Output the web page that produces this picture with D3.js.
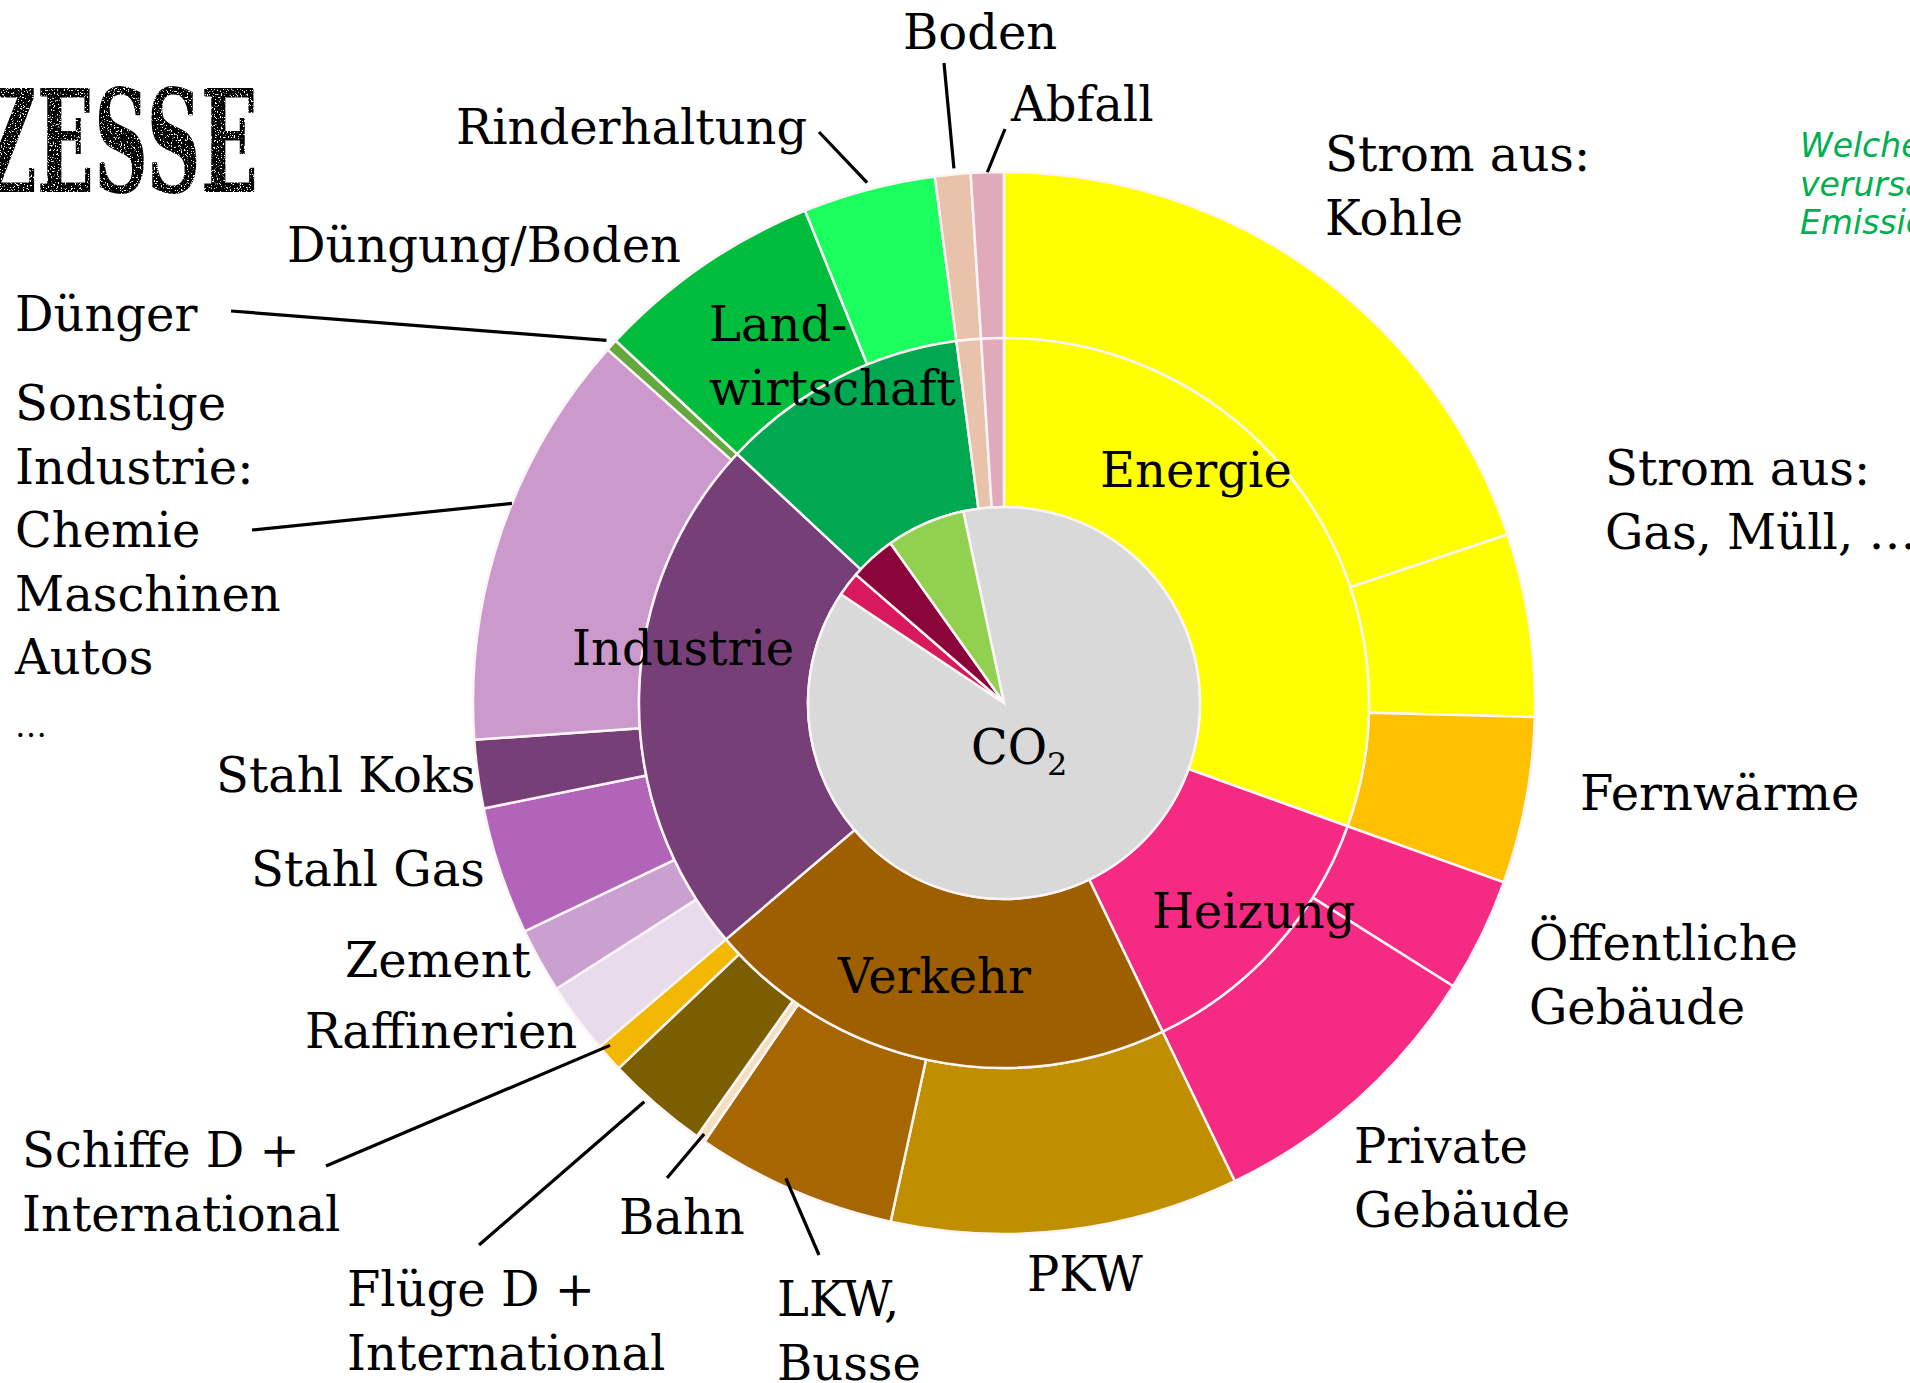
<!DOCTYPE html>
<html>
<head>
<meta charset="utf-8">
<script src="https://cdn.jsdelivr.net/npm/d3@7"></script>
<style>
  body { margin: 0; background: #fff; overflow: hidden; }
  text { font-family: "DejaVu Serif", serif; fill: #000; }
</style>
</head>
<body>
<svg id="chart" width="1910" height="1383"></svg>
<script>
// Treibhausgas-Emissionen, Anteile in Prozent
// innerer Kreis: Gase
const gases = ["CO₂", "F-Gase", "N₂O", "CH₄"];
const gasShare = [87.7, 2.0, 3.8, 6.5];

// mittlerer Ring: Sektoren
const sectors = ["Energie", "Heizung", "Verkehr", "Industrie", "Landwirtschaft", "Boden", "Abfall"];

// äußerer Ring: Quellen
const sources = ["Strom aus Kohle", "Strom aus Gas, Müll", "Fernwärme", "Öffentliche Gebäude", "Private Gebäude",
  "PKW", "LKW, Busse", "Bahn", "Flüge", "Schiffe", "Raffinerien", "Zement", "Stahl Gas", "Stahl Koks",
  "Sonstige Industrie", "Dünger", "Düngung/Boden", "Rinderhaltung", "Boden", "Abfall"];
const sourceSector = ["Energie", "Energie", "Energie", "Heizung", "Heizung",
  "Verkehr", "Verkehr", "Verkehr", "Verkehr", "Verkehr", "Industrie", "Industrie", "Industrie", "Industrie",
  "Industrie", "Industrie", "Landwirtschaft", "Landwirtschaft", "Boden", "Abfall"];
const sourceShare = [19.86, 5.56, 5.06, 3.47, 8.89,
  10.58, 6.11, 0.28, 3.11, 0.86, 2.17, 1.97, 3.89, 2.08,
  12.69, 0.36, 6.94, 4.03, 1.08, 1.0];

// colours
const gasColor = { "CO₂": "#d9d9d9", "F-Gase": "#d81a5c", "N₂O": "#8a063a", "CH₄": "#92d050" };
const sectorColor = {
  "Energie": "#ffff00", "Heizung": "#f52a82", "Verkehr": "#9e5f00", "Industrie": "#773f77",
  "Landwirtschaft": "#00a851", "Boden": "#e8c2aa", "Abfall": "#e0aaba"
};
const sourceColor = {
  "Strom aus Kohle": "#ffff00", "Strom aus Gas, Müll": "#ffff00", "Fernwärme": "#ffc000",
  "Öffentliche Gebäude": "#f52a82", "Private Gebäude": "#f52a82",
  "PKW": "#c08f00", "LKW, Busse": "#a66700", "Bahn": "#f3dfc0", "Flüge": "#7b5e00", "Schiffe": "#f2b700",
  "Raffinerien": "#e8dcec", "Zement": "#c9a0cf", "Stahl Gas": "#b265b8", "Stahl Koks": "#773f77",
  "Sonstige Industrie": "#cc99cc", "Dünger": "#63a83c", "Düngung/Boden": "#00bd3e", "Rinderhaltung": "#1aff5e",
  "Boden": "#e8c2aa", "Abfall": "#e0aaba"
};

var width = 1910, height = 1383;
var cx = 1004, cy = 703;
var r0 = 196, r1 = 365, r2 = 531;
var deg = Math.PI / 180;

var svg = d3.select("#chart");

// rough stamp look for the title
var defs = svg.append("defs");
var f = defs.append("filter").attr("id", "rough");
f.append("feTurbulence").attr("type", "fractalNoise").attr("baseFrequency", 0.7)
  .attr("numOctaves", 2).attr("seed", 4).attr("result", "n");
f.append("feColorMatrix").attr("in", "n").attr("type", "matrix")
  .attr("values", "0 0 0 0 0  0 0 0 0 0  0 0 0 0 0  -14 0 0 0 9.4").attr("result", "holes");
f.append("feComposite").attr("in", "SourceGraphic").attr("in2", "holes").attr("operator", "in");

svg.append("text")
  .attr("x", -18).attr("y", 192)
  .attr("textLength", 276).attr("lengthAdjust", "spacingAndGlyphs")
  .style("font-family", "'DejaVu Serif Condensed', 'DejaVu Serif'")
  .style("font-weight", "bold").style("font-size", "142px")
  .attr("filter", "url(#rough)")
  .text("ZESSE");

// green handwritten note, cut by the right edge
var note = svg.append("text")
  .style("font-family", "'DejaVu Sans', sans-serif").style("font-style", "italic")
  .style("font-size", "33px").style("fill", "#00b050");
["Welche", "verursachen", "Emissionen"].forEach(function(t, i) {
  note.append("tspan").attr("x", 1800).attr("y", 157 + i * 38.5).text(t);
});

var g = svg.append("g").attr("transform", "translate(" + cx + "," + cy + ")");

var outerData = sources.map(function(s, i) {
  return { name: s, sector: sourceSector[i], value: sourceShare[i] };
});
var sectorTotals = d3.rollup(outerData, function(v) { return d3.sum(v, function(d) { return d.value; }); },
  function(d) { return d.sector; });
var midData = sectors.map(function(s) { return { name: s, value: sectorTotals.get(s) }; });
var gasData = gases.map(function(s, i) { return { name: s, value: gasShare[i] }; });

var pie = d3.pie().sort(null).value(function(d) { return d.value; });
var gasPie = d3.pie().sort(null).value(function(d) { return d.value; })
  .startAngle(-12 * deg).endAngle(348 * deg);

var arcOut = d3.arc().innerRadius(r1).outerRadius(r2);
var arcMid = d3.arc().innerRadius(r0).outerRadius(r1);
var arcGas = d3.arc().innerRadius(0).outerRadius(r0);

var outerArcs = pie(outerData);

g.selectAll("path.out").data(outerArcs).enter().append("path")
  .attr("class", "out")
  .attr("d", arcOut)
  .attr("fill", function(d) { return sourceColor[d.data.name]; })
  .attr("stroke", "#fdf4f6").attr("stroke-width", 2.5);

g.selectAll("path.mid").data(pie(midData)).enter().append("path")
  .attr("class", "mid")
  .attr("d", arcMid)
  .attr("fill", function(d) { return sectorColor[d.data.name]; })
  .attr("stroke", "#fdf4f6").attr("stroke-width", 2.5);

g.selectAll("path.gas").data(gasPie(gasData)).enter().append("path")
  .attr("class", "gas")
  .attr("d", arcGas)
  .attr("fill", function(d) { return gasColor[d.data.name]; })
  .attr("stroke", "#fdf4f6").attr("stroke-width", 2.5);

// labels (lines, x, y of first baseline)
var lineH = 63.5;
var labels = [
  [["Boden"], 903, 49],
  [["Abfall"], 1011, 121],
  [["Rinderhaltung"], 456, 144],
  [["Strom aus:", "Kohle"], 1325, 171],
  [["Düngung/Boden"], 287, 262],
  [["Dünger"], 15, 331],
  [["Land-", "wirtschaft"], 709, 341],
  [["Sonstige", "Industrie:", "Chemie", "Maschinen", "Autos"], 15, 420],
  [["Strom aus:", "Gas, Müll, …"], 1605, 485],
  [["Energie"], 1100, 487],
  [["Industrie"], 572, 665],
  [["Stahl Koks"], 216, 792],
  [["Fernwärme"], 1580, 810],
  [["Stahl Gas"], 251, 886],
  [["Heizung"], 1152, 928],
  [["Öffentliche", "Gebäude"], 1529, 960],
  [["Zement"], 345, 977],
  [["Verkehr"], 838, 993],
  [["Raffinerien"], 305, 1048],
  [["Schiffe D +", "International"], 22, 1167],
  [["Private", "Gebäude"], 1354, 1163],
  [["Bahn"], 619, 1234],
  [["PKW"], 1027, 1291],
  [["Flüge D +", "International"], 347, 1306],
  [["LKW,", "Busse"], 777, 1316]
];

labels.forEach(function(l) {
  var t = svg.append("text").style("font-size", "48px");
  l[0].forEach(function(line, i) {
    t.append("tspan").attr("x", l[1]).attr("y", l[2] + i * lineH).text(line);
  });
});

svg.append("text").attr("x", 15).attr("y", 737).style("font-size", "32px").text("…");

var co2 = svg.append("text").attr("x", 971).attr("y", 764).style("font-size", "48px");
co2.append("tspan").text("CO");
co2.append("tspan").style("font-size", "32px").attr("dy", 11).text("2");

// leader lines: source, position inside slice, radius offset, label end
var leaders = [
  ["Boden", 0.55, 6, 944, 63],
  ["Abfall", 0.5, 0, 1005, 129],
  ["Rinderhaltung", 0.5, 7, 819, 132],
  ["Dünger", 0.5, 7, 231, 311],
  ["Sonstige Industrie", 0.57, 0, 252, 530],
  ["Schiffe", 0.8, -9, 326, 1166],
  ["Flüge", 0.6, 6, 479, 1245],
  ["Bahn", 0.5, -6, 667, 1178],
  ["LKW, Busse", 0.56, -8, 819, 1255]
];

leaders.forEach(function(l) {
  var a = outerArcs.find(function(d) { return d.data.name === l[0]; });
  var ang = a.startAngle + l[1] * (a.endAngle - a.startAngle);
  var r = r2 + l[2];
  svg.append("line")
    .attr("x1", l[3]).attr("y1", l[4])
    .attr("x2", cx + r * Math.sin(ang)).attr("y2", cy - r * Math.cos(ang))
    .attr("stroke", "#000").attr("stroke-width", 3.2);
});
</script>
</body>
</html>
